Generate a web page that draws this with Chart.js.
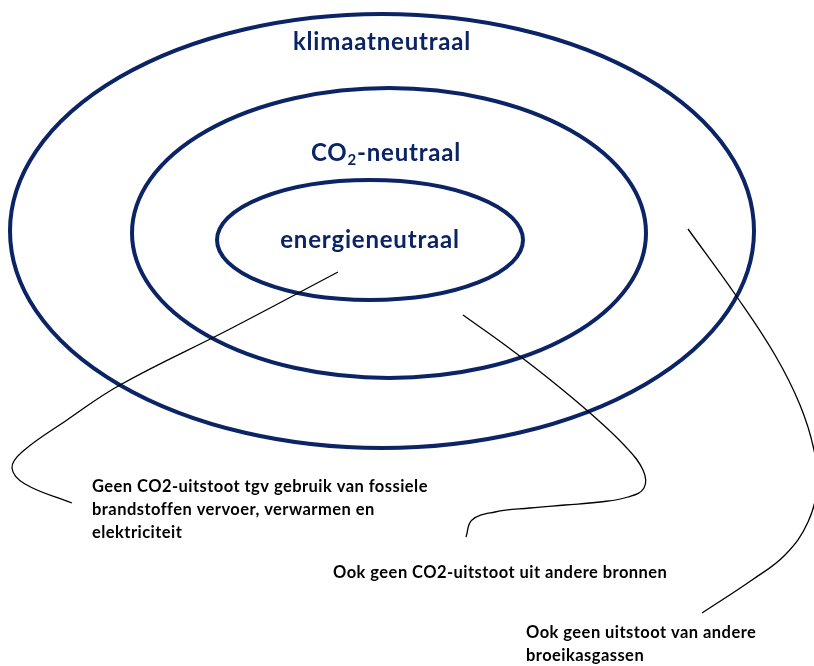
<!DOCTYPE html>
<html>
<head>
<meta charset="utf-8">
<script src="https://cdn.jsdelivr.net/npm/chart.js@4/dist/chart.umd.min.js"></script>
<style>
  html, body { margin: 0; padding: 0; background: #fff; }
  #wrap { width: 814px; height: 666px; }
</style>
</head>
<body>
<div id="wrap"><canvas id="diagram" width="814" height="666"></canvas></div>
<script>
// rings: outer -> inner (centre x, centre y, radius x, radius y) in picture units
const ringNames = ['klimaatneutraal', 'CO2-neutraal', 'energieneutraal'];
const ringCx = [382, 389, 370];
const ringCy = [231, 233, 240];
const ringRx = [372, 257, 153];
const ringRy = [217, 145, 60];
const ringLabelX = [382, 386, 370];
const ringLabelY = [42, 153, 240];

// connector curves
const connectorEnergie = [[338, 272], [230, 329], [120, 385], [67, 420], [22, 452], [12, 468], [25, 484], [72, 503]];
const connectorCO2 = [[463, 315], [505, 345], [548, 378], [590, 413], [625, 446], [643, 470], [644, 488], [628, 497], [600, 502], [565, 505], [530, 508], [495, 512], [472, 520], [466, 537]];
const connectorKlimaat = [[688, 229], [737, 297], [775, 355], [800, 405], [814, 450], [817, 485], [808, 522], [785, 555], [752, 580], [702, 613]];

// explanation texts
const noteLines = [
  ['Geen CO2-uitstoot tgv gebruik van fossiele', 'brandstoffen vervoer, verwarmen en', 'elektriciteit'],
  ['Ook geen CO2-uitstoot uit andere bronnen'],
  ['Ook geen uitstoot van andere', 'broeikasgassen']
];
const noteX = [92, 333, 526];
const noteY = [487, 573, 633];

const NAVY = '#0b2466';

const toPoints = arr => arr.map(p => ({ x: p[0], y: p[1] }));

const ringPlugin = {
  id: 'rings',
  beforeDatasetsDraw(chart) {
    const { ctx, scales: { x, y } } = chart;
    ctx.save();
    ctx.strokeStyle = NAVY;
    ctx.lineWidth = 4;
    ringCx.forEach((cx, i) => {
      const px = x.getPixelForValue(cx);
      const py = y.getPixelForValue(ringCy[i]);
      const rx = Math.abs(x.getPixelForValue(cx + ringRx[i]) - px);
      const ry = Math.abs(y.getPixelForValue(ringCy[i] + ringRy[i]) - py);
      ctx.beginPath();
      ctx.ellipse(px, py, rx, ry, 0, 0, Math.PI * 2);
      ctx.stroke();
    });
    ctx.restore();
  },
  afterDatasetsDraw(chart) {
    const { ctx, scales: { x, y } } = chart;
    ctx.save();
    ctx.fillStyle = NAVY;
    ctx.textBaseline = 'middle';
    ctx.letterSpacing = '0.8px';
    const big = 'bold 24px Lato';
    const sub = 'bold 15px Lato';
    ringNames.forEach((name, i) => {
      const px = x.getPixelForValue(ringLabelX[i]);
      const py = y.getPixelForValue(ringLabelY[i]);
      if (name === 'CO2-neutraal') {
        // subscript 2
        ctx.font = big;
        const w1 = ctx.measureText('CO').width;
        const w3 = ctx.measureText('-neutraal').width;
        ctx.font = sub;
        const w2 = ctx.measureText('2').width;
        const sx = px - (w1 + w2 + w3) / 2;
        ctx.textAlign = 'left';
        ctx.font = big;
        ctx.fillText('CO', sx, py);
        ctx.font = sub;
        ctx.fillText('2', sx + w1, py + 7);
        ctx.font = big;
        ctx.fillText('-neutraal', sx + w1 + w2, py);
      } else {
        ctx.font = big;
        ctx.textAlign = 'center';
        ctx.fillText(name, px, py);
      }
    });

    ctx.fillStyle = '#000';
    ctx.textAlign = 'left';
    ctx.letterSpacing = '0.45px';
    ctx.font = 'bold 16.5px Lato';
    noteLines.forEach((lines, i) => {
      lines.forEach((line, j) => {
        ctx.fillText(line, x.getPixelForValue(noteX[i]), y.getPixelForValue(noteY[i] + j * 23));
      });
    });
    ctx.restore();
  }
};

const curve = data => ({
  data: toPoints(data),
  showLine: true,
  borderColor: '#000',
  borderWidth: 1.3,
  pointRadius: 0,
  tension: 0.4,
  fill: false
});

new Chart(document.getElementById('diagram').getContext('2d'), {
  type: 'scatter',
  plugins: [ringPlugin],
  data: {
    datasets: [curve(connectorEnergie), curve(connectorCO2), curve(connectorKlimaat)]
  },
  options: {
    responsive: false,
    animation: false,
    layout: { padding: 0 },
    plugins: {
      legend: { display: false },
      tooltip: { enabled: false }
    },
    scales: {
      x: { type: 'linear', min: 0, max: 814, display: false },
      y: { type: 'linear', min: 0, max: 666, reverse: true, display: false }
    }
  }
});
</script>
</body>
</html>
